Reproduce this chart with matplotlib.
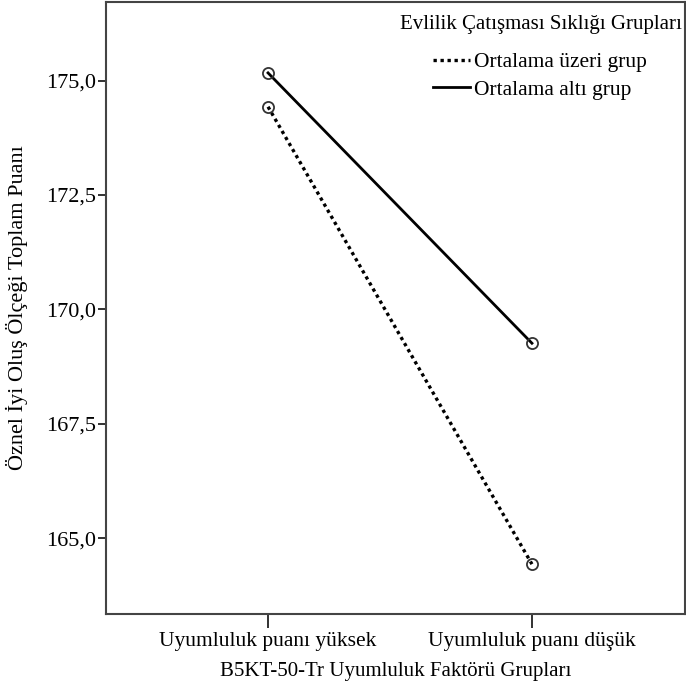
import matplotlib
matplotlib.use("Agg")
import matplotlib.pyplot as plt
from matplotlib.lines import Line2D

categories = ["Uyumluluk puanı yüksek", "Uyumluluk puanı düşük"]
series_names = ["Ortalama üzeri grup", "Ortalama altı grup"]
legend_title = "Evlilik Çatışması Sıklığı Grupları"
above_avg = [174.43, 164.43]
below_avg = [175.17, 169.26]
yticks = [165.0, 167.5, 170.0, 172.5, 175.0]
ytick_labels = ["165,0", "167,5", "170,0", "172,5", "175,0"]

plt.rcParams['font.family'] = ['Liberation Serif', 'DejaVu Serif']

fig = plt.figure(figsize=(6.86, 6.97), dpi=100)
W, H = 686, 697
left, right, top, bottom = 106, 685, 2, 614
ax = fig.add_axes([left / W, 1 - bottom / H, (right - left) / W, (bottom - top) / H])

x = list(range(len(categories)))
ax.plot(x, above_avg, color='black', lw=2.4, linestyle=(0, (1, 1.1)),
        marker='o', markersize=8, markerfacecolor='none', markeredgecolor='#333333',
        markeredgewidth=1.3)
ax.plot(x, below_avg, color='black', lw=2.0, linestyle='-',
        marker='o', markersize=8, markerfacecolor='none', markeredgecolor='#333333',
        markeredgewidth=1.3)

ax.set_xlim(-0.614, 1.58)
ax.set_ylim(163.34, 176.72)
ax.set_xticks(x)
ax.set_xticklabels(categories, fontsize=15.5)
ax.set_yticks(yticks)
ax.set_yticklabels(ytick_labels, fontsize=16)
ax.tick_params(axis='x', direction='out', length=10, width=1.3, pad=3, color='#222222')
ax.tick_params(axis='y', direction='out', length=6, width=1.3, pad=1, color='#222222')
for s in ax.spines.values():
    s.set_linewidth(1.5)
    s.set_color('#444444')

ax.set_xlabel("B5KT-50-Tr Uyumluluk Faktörü Grupları", fontsize=15, labelpad=8)
ax.set_ylabel("Öznel İyi Oluş Ölçeği Toplam Puanı", fontsize=16, labelpad=13)

fig.text(682 / W, 1 - 25 / H, legend_title, ha='right', va='center', fontsize=15)

handles = [Line2D([0], [0], color='black', lw=2.4, linestyle=(0, (1, 1.1))),
           Line2D([0], [0], color='black', lw=2.0, linestyle='-')]
leg = fig.legend(handles, series_names, loc='upper left',
                 bbox_to_anchor=(433 / W, 1 - 52 / H), bbox_transform=fig.transFigure,
                 frameon=False, borderpad=0, borderaxespad=0,
                 fontsize=15.5, handlelength=1.7, handletextpad=0.2,
                 labelspacing=0.35)

fig.savefig("out.png", dpi=100, facecolor='white')
